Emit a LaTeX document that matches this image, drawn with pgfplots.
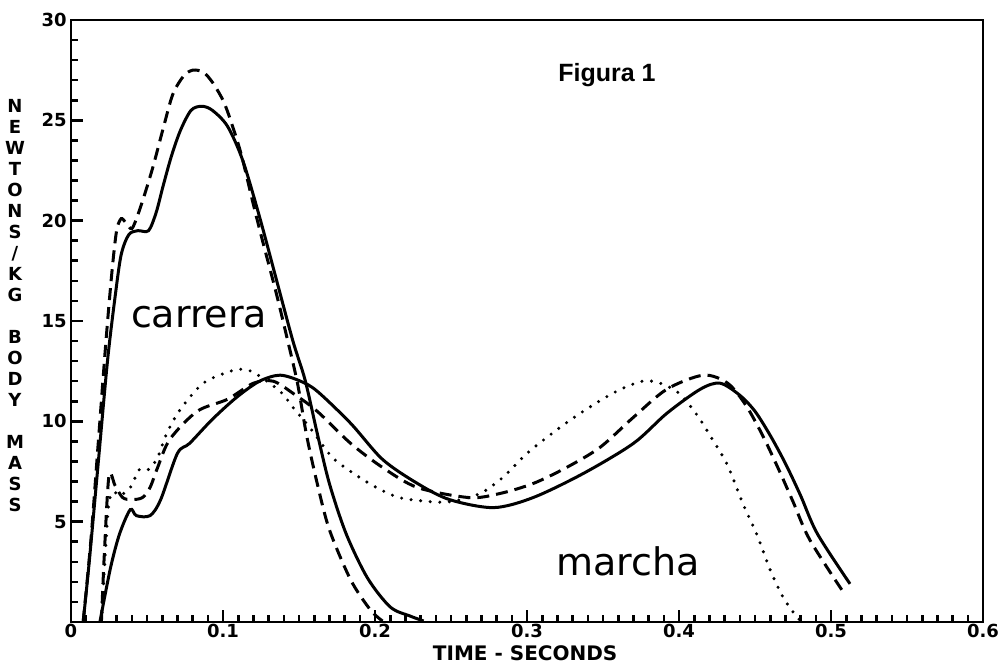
\documentclass[border=0pt]{standalone}
\usepackage{fontspec}
\setmainfont{DejaVu Sans}
\newfontfamily\figfont{Liberation Sans}
\usepackage{pgfplots}
\pgfplotsset{compat=1.18}
\begin{document}
\begin{tikzpicture}
\path[use as bounding box] (-35.5pt,-23pt) rectangle (467pt,311pt);
\begin{axis}[
  at={(0,0)}, anchor=south west,
  scale only axis, width=456pt, height=301pt,
  xmin=0, xmax=0.6, ymin=0, ymax=30,
  clip mode=individual,
  xtick={0,0.1,0.2,0.3,0.4,0.5,0.6},
  xticklabels={0,0.1,0.2,0.3,0.4,0.5,0.6},
  ytick={0,5,10,15,20,25,30},
  yticklabels={,5,10,15,20,25,30},
  minor xtick={0.01,0.02,...,0.595},
  minor ytick={1,2,...,29},
  tick align=inside, xtick pos=bottom, ytick pos=left,
  major tick length=6pt, minor tick length=3.5pt,
  axis line style={line width=1.4pt},
  xtick style={line width=1.3pt, black},
  ytick style={line width=1.3pt, black},
  /pgf/number format/assume math mode=true,
  ticklabel style={font=\bfseries\fontsize{9}{10}\selectfont},
  xticklabel style={inner sep=1pt},
  yticklabel style={inner sep=2pt},
]
% carrera solid
\addplot[black, line width=1.5pt, smooth, tension=0.5] coordinates {
(0.008,0) (0.012,3) (0.018,8) (0.024,13) (0.029,16.2) (0.033,18.3) (0.038,19.3) (0.044,19.5) (0.051,19.5) (0.056,20.4) (0.0605,21.7) (0.066,23.2) (0.072,24.5) (0.079,25.5) (0.086,25.7) (0.093,25.5) (0.103,24.7) (0.113,23.0) (0.124,20.2) (0.135,17.1) (0.146,14.0) (0.154,12.06) (0.162,9.4) (0.170,6.9) (0.181,4.4) (0.195,2.2) (0.210,0.75) (0.223,0.3) (0.232,0.05)};
% carrera dashed
\addplot[black, line width=1.5pt, dash pattern=on 6pt off 3.5pt, smooth, tension=0.5] coordinates {
(0.008,0) (0.013,4) (0.018,9) (0.023,14) (0.027,17.5) (0.030,19.5) (0.033,20.1) (0.036,19.9) (0.040,19.6) (0.044,20.3) (0.048,21.2) (0.054,22.7) (0.061,24.7) (0.067,26.3) (0.074,27.2) (0.080,27.5) (0.087,27.4) (0.093,26.9) (0.100,26.0) (0.105,25.0) (0.112,23.3) (0.120,20.8) (0.126,19.0) (0.135,16.4) (0.142,14.2) (0.149,11.9) (0.155,9.3) (0.162,6.9) (0.170,4.6) (0.184,2.1) (0.197,0.6) (0.205,0.05)};
% marcha solid
\addplot[black, line width=1.5pt, smooth, tension=0.5] coordinates {
(0.019,0) (0.026,2.7) (0.032,4.4) (0.039,5.6) (0.043,5.3) (0.052,5.3) (0.059,6.1) (0.070,8.4) (0.078,8.9) (0.093,10.1) (0.109,11.2) (0.124,12.0) (0.1375,12.3) (0.151,12.0) (0.162,11.5) (0.184,9.9) (0.205,8.1) (0.228,6.9) (0.249,6.1) (0.278,5.7) (0.304,6.2) (0.337,7.4) (0.370,8.9) (0.392,10.4) (0.414,11.6) (0.427,11.9) (0.440,11.3) (0.450,10.5) (0.460,9.3) (0.470,7.9) (0.480,6.3) (0.491,4.4) (0.5125,1.9)};
% marcha dashed
\addplot[black, line width=1.5pt, dash pattern=on 6pt off 3.5pt, smooth, tension=0.5] coordinates {
(0.020,0) (0.022,3.5) (0.025,7.3) (0.029,6.8) (0.034,6.2) (0.040,6.1) (0.047,6.2) (0.052,6.7) (0.057,7.7) (0.065,9.1) (0.083,10.5) (0.103,11.1) (0.120,11.9) (0.133,12.0) (0.146,11.4) (0.162,10.5) (0.184,8.9) (0.205,7.7) (0.228,6.7) (0.262,6.2) (0.282,6.4) (0.304,6.9) (0.326,7.7) (0.348,8.7) (0.370,10.2) (0.392,11.6) (0.416,12.3) (0.432,11.9) (0.444,10.8) (0.455,9.3) (0.465,7.7) (0.475,6.0) (0.486,4.1) (0.508,1.5)};
% marcha dotted
\addplot[black, line width=1.7pt, line cap=round, dash pattern=on 0pt off 4.8pt, smooth, tension=0.5] coordinates {
(0.020,0) (0.022,2.7) (0.0235,4.6) (0.025,6.0) (0.028,6.5) (0.032,6.3) (0.039,6.7) (0.045,7.6) (0.051,7.6) (0.057,8.2) (0.063,9.4) (0.072,10.6) (0.087,11.9) (0.105,12.5) (0.113,12.6) (0.121,12.4) (0.1375,11.5) (0.146,10.7) (0.157,9.7) (0.172,8.2) (0.188,7.3) (0.201,6.7) (0.216,6.2) (0.236,6.0) (0.250,6.0) (0.269,6.4) (0.284,7.2) (0.300,8.4) (0.320,9.6) (0.339,10.6) (0.359,11.5) (0.376,12.0) (0.3875,11.9) (0.400,11.4) (0.412,10.3) (0.422,9.1) (0.432,7.8) (0.442,5.9) (0.451,4.4) (0.460,2.6) (0.468,1.3) (0.475,0.5) (0.480,0.05)};
% annotations
\node[inner sep=0, font=\fontsize{19}{22}\selectfont] at (rel axis cs:0.1405,0.506) {carrera};
\node[inner sep=0, font=\fontsize{19}{22}\selectfont] at (rel axis cs:0.6107,0.1) {marcha};
\node[inner sep=0, font=\figfont\bfseries\fontsize{12.5}{14}\selectfont] at (rel axis cs:0.5877,0.9086) {Figura 1};
\node[inner sep=0, font=\bfseries\fontsize{10}{12}\selectfont] at (rel axis cs:0.498,-0.0515) {TIME - SECONDS};
\node[inner sep=0, align=center, font=\bfseries\fontsize{9}{10.5}\selectfont] at (rel axis cs:-0.0614,0.525)
 {N\\E\\W\\T\\O\\N\\S\\/\\K\\G\\\mbox{}\\B\\O\\D\\Y\\\mbox{}\\M\\A\\S\\S};
\end{axis}
\end{tikzpicture}
\end{document}
